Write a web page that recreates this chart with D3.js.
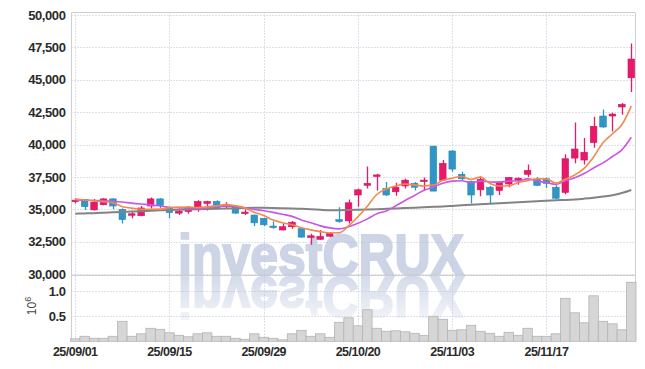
<!DOCTYPE html>
<html><head><meta charset="utf-8">
<script src="https://cdn.jsdelivr.net/npm/d3@7"></script>
<style>html,body{margin:0;padding:0;background:#fff;} svg{display:block;}</style>
</head><body>
<svg id="c" width="645" height="369"></svg>
<script>
const dates = ["2025-09-01","2025-09-02","2025-09-03","2025-09-04","2025-09-05","2025-09-08","2025-09-09","2025-09-10","2025-09-11","2025-09-12",
"2025-09-15","2025-09-16","2025-09-17","2025-09-18","2025-09-19","2025-09-22","2025-09-23","2025-09-24","2025-09-25","2025-09-26",
"2025-09-29","2025-09-30","2025-10-01","2025-10-02","2025-10-10","2025-10-13","2025-10-14","2025-10-15","2025-10-16","2025-10-17",
"2025-10-20","2025-10-21","2025-10-22","2025-10-23","2025-10-24","2025-10-27","2025-10-28","2025-10-29","2025-10-30","2025-10-31",
"2025-11-03","2025-11-04","2025-11-05","2025-11-06","2025-11-07","2025-11-10","2025-11-11","2025-11-12","2025-11-13","2025-11-14",
"2025-11-17","2025-11-18","2025-11-19","2025-11-20","2025-11-21","2025-11-24","2025-11-25","2025-11-26","2025-11-27","2025-11-28"];
const openP  = [35600,35750,34950,35350,35800,35000,34550,34500,35250,35800,35150,34700,34820,35150,35450,35600,35250,35200,34700,34550,34300,33700,33400,33650,33500,32820,32680,32920,34200,34100,36100,36850,37550,36600,36350,36800,37000,37150,39870,37250,39500,37700,37150,36500,36700,36450,36950,37250,37700,37300,37350,36700,36300,38950,38800,40150,42200,42200,42900,45150];
const highP  = [35850,35800,35800,35850,35850,35050,34800,35250,35900,35850,35200,35050,35250,35700,35650,35700,35550,35250,35000,34600,34350,34050,33900,34100,33550,33100,33400,33250,35150,35750,36600,38300,37750,37100,37050,37350,37100,37450,39900,38800,39550,37900,37200,37550,36800,37150,37500,37450,38450,37500,37450,36850,39250,41700,40500,42150,42700,42450,43200,47800];
const lowP   = [35450,34950,34900,35300,35000,33900,34300,34450,35050,35100,34300,34550,34650,34800,34900,35000,35050,34650,34550,33700,33700,33500,33350,33500,32800,32250,32650,32850,33950,33900,35200,36600,36450,36050,36050,36600,36450,36450,36400,37200,37900,37250,35450,36000,35450,36100,36700,36900,37500,36800,36650,35800,36150,38550,38450,39750,41300,41000,42300,44050];
const closeP = [35700,35200,35550,35800,35250,34200,34650,35100,35800,35300,34750,34850,35150,35600,35600,35100,35350,34700,34780,33950,33800,33580,33650,34000,32850,32950,32900,33150,34050,35500,36500,37000,37650,36100,36700,37250,36700,37250,36400,38550,38100,37350,36100,37300,36100,37100,37450,37400,38000,36850,37000,35850,38900,39650,39400,41400,41350,42350,43100,46600];
const volume = [0.05,0.10,0.06,0.06,0.10,0.40,0.10,0.15,0.26,0.24,0.17,0.12,0.09,0.15,0.17,0.10,0.10,0.06,0.04,0.15,0.08,0.06,0.03,0.15,0.22,0.10,0.15,0.08,0.38,0.47,0.31,0.63,0.26,0.20,0.21,0.19,0.16,0.12,0.50,0.44,0.22,0.23,0.32,0.20,0.16,0.10,0.18,0.12,0.26,0.10,0.10,0.15,0.86,0.57,0.37,0.91,0.40,0.35,0.23,1.18];
const ma5  = [35780,35720,35650,35580,35500,35200,35090,35000,35000,35010,35120,35160,35170,35130,35190,35260,35360,35270,35106,34776,34516,34162,33952,33796,33576,33406,33270,33170,33180,33710,34420,35240,36140,36550,36790,36940,36880,36800,36860,37230,37400,37530,37300,37480,36990,36790,36810,37070,37210,37360,37340,37020,37320,37650,38160,39040,40140,40830,41520,42960];
const ma10 = [35720,35700,35680,35660,35620,35560,35470,35400,35340,35255,35160,35125,35085,35065,35100,35190,35260,35220,35118,34983,34888,34761,34611,34451,34176,33961,33716,33561,33488,33643,33913,34255,34655,34865,35250,35680,36060,36470,36705,37010,37170,37205,37050,37170,37110,37095,37170,37185,37345,37175,37065,36915,37195,37430,37760,38190,38580,39075,39585,40560];
const ma60 = [34650,34680,34700,34730,34760,34790,34820,34850,34890,34920,34940,34960,34980,35000,35020,35040,35060,35080,35100,35110,35110,35100,35080,35060,35030,35000,34960,34930,34930,34940,34960,34980,35000,35030,35060,35090,35120,35150,35190,35220,35260,35300,35340,35380,35420,35460,35500,35540,35580,35620,35650,35690,35720,35760,35820,35890,35980,36080,36250,36490];
const priceTicks = [30000,32500,35000,37500,40000,42500,45000,47500,50000];
const volTicks = [0.5,1.0];
const dateTicks = ["2025-09-01","2025-09-15","2025-09-29","2025-10-20","2025-11-03","2025-11-17"];
const dateTickLabels = ["25/09/01","25/09/15","25/09/29","25/10/20","25/11/03","25/11/17"];

const UP = "#e8196b", DOWN = "#2f96c6";
const svg = d3.select("#c");
const L = 71.5, R = 635, T = 12.5, PB = 275.5, VB = 341.3;
const x = d3.scaleBand().domain(dates).range([70.5, 636]).padding(0);
const y = d3.scaleLinear().domain([30000, 50000]).range([274, 15]);
const yv = d3.scaleLinear().domain([0, 1]).range([VB, 291.3]);
const cx = d => x(d) + x.bandwidth() / 2;
const font = "'Liberation Sans', Arial, sans-serif";

// watermark
const defs = svg.append("defs");
const g1 = defs.append("linearGradient").attr("id","fade").attr("x1",0).attr("y1",0).attr("x2",0).attr("y2",1);
g1.append("stop").attr("offset","0%").attr("stop-color","#fff").attr("stop-opacity",0.85);
g1.append("stop").attr("offset","100%").attr("stop-color","#fff").attr("stop-opacity",0.25);
const m = defs.append("mask").attr("id","rmask").attr("maskUnits","userSpaceOnUse");
m.append("rect").attr("x",0).attr("y",276).attr("width",645).attr("height",45).attr("fill","url(#fade)");
const cp = defs.append("clipPath").attr("id","pclip");
cp.append("rect").attr("x",L).attr("y",T).attr("width",R-L).attr("height",274-T+1);

svg.append("text").attr("id","wm").attr("x",178).attr("y",274.5).attr("font-family",font).attr("font-weight","bold")
  .attr("font-size",58).attr("fill","#ccd4e6").attr("stroke","#ccd4e6").attr("stroke-width",2)
  .attr("textLength",286).attr("lengthAdjust","spacingAndGlyphs")
  .text("investCRUX");
svg.append("g").attr("mask","url(#rmask)")
  .append("use").attr("href","#wm").attr("transform","translate(0,551) scale(1,-1)");

// grid
const grid = svg.append("g").attr("stroke","#bcc3d8").attr("stroke-width",1).attr("stroke-dasharray","1,2").attr("fill","none");
priceTicks.forEach(t => grid.append("line").attr("x1",L).attr("x2",R).attr("y1",Math.round(y(t))+0.5).attr("y2",Math.round(y(t))+0.5));
volTicks.forEach(t => grid.append("line").attr("x1",L).attr("x2",R).attr("y1",Math.round(yv(t))+0.5).attr("y2",Math.round(yv(t))+0.5));
dateTicks.forEach(d => grid.append("line").attr("x1",Math.round(cx(d))+0.5).attr("x2",Math.round(cx(d))+0.5).attr("y1",T).attr("y2",VB));

// frame
const fr = svg.append("g").attr("stroke","#cfcfcf").attr("stroke-width",1).attr("fill","none");
fr.append("line").attr("x1",L).attr("x2",R).attr("y1",T).attr("y2",T);
fr.append("line").attr("x1",L).attr("x2",R).attr("y1",PB).attr("y2",PB);
fr.append("line").attr("x1",L).attr("x2",L).attr("y1",T).attr("y2",VB);
fr.append("line").attr("x1",R+0.5).attr("x2",R+0.5).attr("y1",T).attr("y2",VB);

// volume bars
svg.append("g").selectAll("rect").data(dates).join("rect")
  .attr("x", d => x(d)).attr("width", x.bandwidth())
  .attr("y", (d,i) => yv(volume[i])).attr("height", (d,i) => VB - yv(volume[i]))
  .attr("fill","#d6d6d6").attr("stroke","#b4b4b4").attr("stroke-width",0.8);

// moving averages
const line = arr => d3.line().x((d,i) => cx(dates[i])).y(d => y(d)).curve(d3.curveMonotoneX)(arr);
const lg = svg.append("g").attr("clip-path","url(#pclip)").attr("fill","none");
lg.append("path").attr("d", line(ma60)).attr("stroke","#838383").attr("stroke-width",2);

// candles
const bw = x.bandwidth() * 0.7;
const cg = svg.append("g").attr("clip-path","url(#pclip)");
dates.forEach((d,i) => {
  const up = closeP[i] >= openP[i];
  const col = up ? UP : DOWN;
  const xc = Math.round(cx(d)) + 0.5;
  cg.append("line").attr("x1",xc).attr("x2",xc).attr("y1",y(highP[i])).attr("y2",y(lowP[i])).attr("stroke",col).attr("stroke-width",1.3);
  const top = y(Math.max(openP[i], closeP[i])), bot = y(Math.min(openP[i], closeP[i]));
  cg.append("rect").attr("x", cx(d) - bw/2).attr("width", bw).attr("y", top).attr("height", Math.max(1.5, bot - top))
    .attr("fill", col).attr("stroke", up ? "#d01560" : "#2a88b6").attr("stroke-width",0.6);
});

lg.raise();
lg.append("path").attr("d", line(ma10)).attr("stroke","#cc55e8").attr("stroke-width",1.6);
lg.append("path").attr("d", line(ma5)).attr("stroke","#f08a4d").attr("stroke-width",1.6);

// axes labels
const ax = svg.append("g").attr("font-family",font).attr("font-weight","bold").attr("fill","#2b2b2b");
priceTicks.forEach(t => ax.append("text").attr("x",65.5).attr("y",y(t)).attr("dy","0.36em").attr("text-anchor","end").attr("font-size",13).attr("letter-spacing","-0.4").text(d3.format(",")(t)));
volTicks.forEach(t => ax.append("text").attr("x",65.5).attr("y",yv(t)).attr("dy","0.36em").attr("text-anchor","end").attr("font-size",13).attr("letter-spacing","-0.4").text(d3.format(".1f")(t)));
dateTicks.forEach((d,i) => ax.append("text").attr("x",cx(d)).attr("y",356).attr("text-anchor","middle").attr("font-size",12.5).attr("letter-spacing","-0.5").text(dateTickLabels[i]));
const ut = svg.append("text").attr("transform","translate(36,306) rotate(-90)").attr("font-family",font).attr("font-size",12).attr("fill","#444").attr("text-anchor","middle");
ut.append("tspan").text("10");
ut.append("tspan").attr("font-size",9).attr("dy","-5").text("6");
</script>
</body></html>
